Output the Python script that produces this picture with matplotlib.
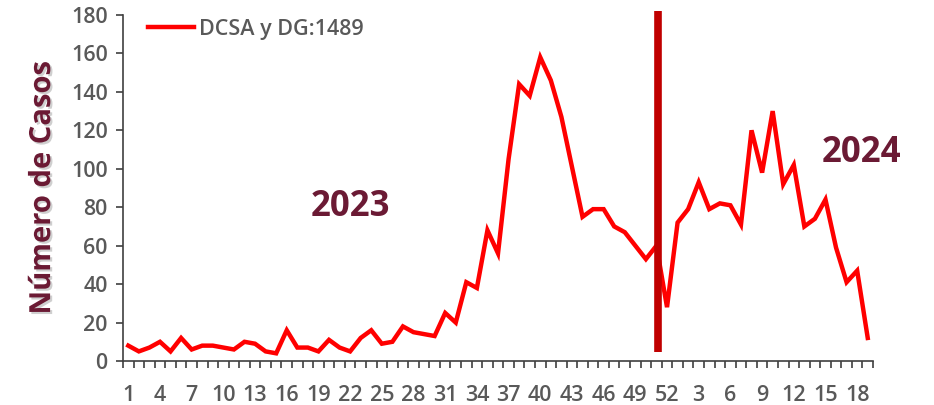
import numpy as np
import matplotlib

matplotlib.use('Agg')
import matplotlib.pyplot as plt
import matplotlib.patheffects as pe

# weeks: 2023 (1-52) then 2024 (1-19)
weeks_2023 = list(range(1, 53))
weeks_2024 = list(range(1, 20))

casos_2023 = [8, 5, 7, 10, 5, 12, 6, 8, 8, 7, 6, 10, 9, 5, 4, 16, 7, 7, 5, 11,
              7, 5, 12, 16, 9, 10, 18, 15, 14, 13, 25, 20, 41, 38, 68, 56, 105, 144, 138, 158,
              146, 127, 101, 75, 79, 79, 70, 67, 60, 53, 60, 28]
casos_2024 = [72, 79, 93, 79, 82, 81, 71, 120, 98, 130, 92, 102, 70, 74, 84, 59, 41, 47, 12]

serie_label = 'DCSA y DG:1489'
year_labels = ['2023', '2024']

weeks = weeks_2023 + weeks_2024
casos = casos_2023 + casos_2024
idx = np.arange(len(casos))

plt.rcParams['font.family'] = ['Open Sans', 'DejaVu Sans']

maroon = '#6B1A34'
gray = '#595959'

fig = plt.figure(figsize=(9.34, 4.05), dpi=100)
ax = fig.add_axes([0.1317, 0.1086, 0.803, 0.8544])

ax.plot(idx, casos, color='#FF0000', lw=3.2, label=serie_label, solid_joinstyle='miter')

# year separator
ax.plot([50.15, 50.15], [4.5, 182], color='#C00000', lw=5.5, clip_on=False, solid_capstyle='butt')

ax.text(21, 80, year_labels[0], color=maroon, fontsize=25, fontweight='bold', ha='center', va='center')
ax.text(69.4, 108, year_labels[1], color=maroon, fontsize=25, fontweight='bold', ha='center', va='center')

ax.set_xlim(-0.5, len(casos) - 0.5)
ax.set_ylim(0, 180)
ax.set_yticks(range(0, 181, 20))

# tick marks between categories, labels every 3 weeks
ax.set_xticks(np.arange(-0.5, len(casos), 1))
ax.set_xticklabels([])
ax.set_xticks(idx[::3], minor=True)
ax.set_xticklabels([str(w) for w in weeks[::3]], minor=True)
ax.tick_params(axis='x', which='major', length=5, width=1.2, color='#404040', direction='out')
ax.tick_params(axis='x', which='minor', length=0, pad=17, labelsize=15.5, labelcolor=gray)
ax.tick_params(axis='y', length=5, width=1.2, color='#404040', labelsize=15.5, labelcolor=gray, pad=6)
for lbl in ax.get_xticklabels(minor=True) + ax.get_yticklabels():
    lbl.set_fontweight('semibold')

for s in ['top', 'right']:
    ax.spines[s].set_visible(False)
ax.spines['left'].set_color('#404040')
ax.spines['bottom'].set_color('#404040')
ax.spines['left'].set_linewidth(1.2)
ax.spines['bottom'].set_linewidth(1.2)

ylab = ax.set_ylabel('Número de Casos', color=maroon, fontsize=21, fontweight='bold', labelpad=10)
ylab.set_path_effects([pe.SimplePatchShadow(offset=(1.5, -1.5), shadow_rgbFace='#888888', alpha=0.4),
                       pe.Normal()])

leg = ax.legend(loc='upper left', bbox_to_anchor=(0.008, 1.045), frameon=False, fontsize=15.5,
                handlelength=2.1, handletextpad=0.25)
for t in leg.get_texts():
    t.set_color(gray)
    t.set_fontweight('semibold')

fig.savefig('out.png', dpi=100)
plt.close(fig)
